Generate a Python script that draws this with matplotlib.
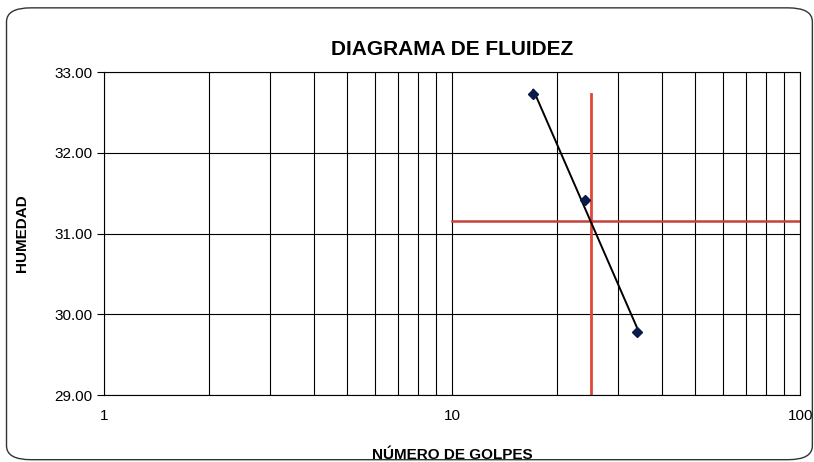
import numpy as np
import matplotlib.pyplot as plt
from matplotlib.patches import FancyBboxPatch

plt.rcParams['font.family'] = ['Liberation Sans Narrow', 'Liberation Sans', 'DejaVu Sans']

# data
golpes = [17.1, 24.1, 34.0]
humedad = [32.73, 31.41, 29.78]
golpes_ref = 25
y_ticks = [29.0, 30.0, 31.0, 32.0, 33.0]

# log-linear fit for the flow curve
b, a = np.polyfit(np.log10(golpes), humedad, 1)
xs = np.array([golpes[0], golpes[-1]])
ys = a + b * np.log10(xs)
ll = a + b * np.log10(golpes_ref)

fig = plt.figure(figsize=(8.14, 4.62), dpi=100)
ax = fig.add_axes([0.128, 0.145, 0.855, 0.699])

# rounded frame around the chart
frame = FancyBboxPatch((0.008, 0.005), 0.99, 0.978, boxstyle="round,pad=0,rounding_size=0.03",
                       transform=fig.transFigure, fill=False, edgecolor='#333333', linewidth=1.0)
fig.patches.append(frame)

ax.set_xscale('log')
ax.set_xlim(1, 100)
ax.set_ylim(29, 33)

ax.grid(True, which='both', axis='x', color='black', linewidth=0.8)
ax.grid(True, which='major', axis='y', color='black', linewidth=0.8)

ax.plot(xs, ys, color='black', linewidth=1.4, zorder=3)
ax.plot(golpes, humedad, 'D', color='#0a1a4a', markersize=5.5, zorder=4)

ax.plot([golpes_ref, golpes_ref], [29, humedad[0]], color='#e0473a', linewidth=2, zorder=2)
ax.plot([10, 100], [ll, ll], color='#c8403a', linewidth=1.8, zorder=2)

ax.set_yticks(y_ticks)
ax.set_yticklabels([f"{v:.2f}" for v in y_ticks])
ax.set_xticks([1, 10, 100])
ax.set_xticklabels(['1', '10', '100'])
ax.tick_params(axis='x', which='both', length=0, pad=10, labelsize=11)
ax.tick_params(axis='y', length=5, direction='out', labelsize=11)

for s in ax.spines.values():
    s.set_color('black')
    s.set_linewidth(0.8)

ax.set_title("DIAGRAMA DE FLUIDEZ", fontsize=15, fontweight='bold', pad=12)
ax.set_xlabel("NÚMERO DE GOLPES", fontsize=11, fontweight='bold', labelpad=18)
ax.set_ylabel("HUMEDAD", fontsize=11, fontweight='bold', labelpad=18)

fig.savefig("out.png", dpi=100)
